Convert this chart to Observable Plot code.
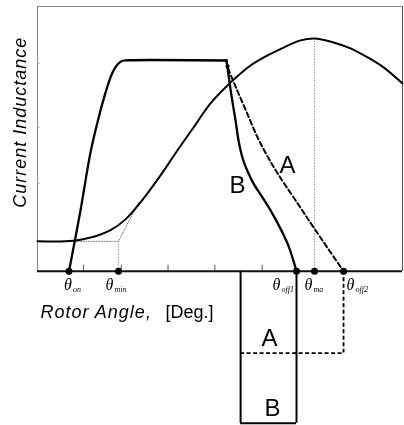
<!DOCTYPE html>
<html>
<head>
<meta charset="utf-8">
<script src="https://cdn.jsdelivr.net/npm/d3@7"></script>
<script src="https://cdn.jsdelivr.net/npm/@observablehq/plot@0.6"></script>
<style>
  html, body { margin: 0; padding: 0; background: #fff; }
  #chart svg { filter: grayscale(100%); }
</style>
</head>
<body>
<div id="chart"></div>
<script>
// Rotor angle (deg) and normalised level (% of full scale)

// Phase current: rise from θ_on to the flat top
const riseAngle   = [6.73, 9.19, 11.33, 13.04, 14.75, 16.03, 17.10, 18.17, 19.45, 40.39];
const riseCurrent = [0, 23.0, 44.9, 57.8, 68.7, 75.1, 78.1, 79.5, 79.7, 79.6];

// Tail B: turned off at θ_off1
const tailBAngle   = [40.39, 40.88, 41.61, 42.32, 42.96, 43.85, 45.00, 46.23, 48.03, 49.80, 51.93, 53.71, 55.35];
const tailBCurrent = [79.6, 73.3, 64.6, 57.0, 49.4, 42.6, 37.3, 32.9, 28.0, 23.0, 16.1, 9.2, 0];

// Tail A: turned off at θ_off2
const tailAAngle   = [40.39, 40.61, 42.32, 44.45, 47.02, 49.15, 51.29, 55.14, 58.99, 65.40];
const tailACurrent = [79.6, 77.4, 69.8, 61.1, 50.6, 43.4, 37.0, 26.8, 16.6, 0];

// Phase inductance profile
const indAngle = [0, 5.98, 9.19, 12.40, 15.60, 18.81, 22.01, 26.29, 29.92, 33.34, 36.97, 40.61,
                  43.39, 45.52, 49.16, 52.58, 56.21, 59.20, 63.26, 66.90, 70.53, 73.95, 78.01];
const indValue = [11.3, 11.3, 11.9, 13.2, 15.5, 19.6, 26.0, 36.2, 45.7, 54.3, 63.4, 70.2,
                  74.7, 77.7, 81.5, 84.5, 87.2, 87.9, 86.4, 84.2, 80.8, 77.0, 70.9];

// Characteristic angles
const thetaNames  = ["on", "min", "off1", "ma", "off2"];
const thetaAngles = [6.73, 17.31, 55.35, 59.20, 65.40];

// Minimum inductance level and the tangent construction that defines θ_min
const minInductance = 11.3;
const tangentEnd = {angle: 21.59, value: 26.0};
const peakInductance = 87.9;

// Conduction-interval diagram below the axis
const dwellStart = 43.4;
const levelA = -30.9;
const levelB = -57.4;

const xTicks = [9.8, 17.9, 27.9, 37.9, 48.0];
const yTicks = [33.2, 54.3, 78.5];

const pts = (xs, ys) => xs.map((x, i) => ({x, y: ys[i]}));
const rise  = pts(riseAngle, riseCurrent);
const tailB = pts(tailBAngle, tailBCurrent);
const tailA = pts(tailAAngle, tailACurrent);
const ind   = pts(indAngle, indValue);

const thetaMin = thetaAngles[1], thetaOff1 = thetaAngles[2],
      thetaMa = thetaAngles[3], thetaOff2 = thetaAngles[4];

const dotted = {stroke: "#777", strokeWidth: 1, strokeDasharray: "1,1.6"};
const serif = "'Liberation Serif', 'Times New Roman', serif";

// horizontal offsets (px) of each θ glyph and its subscript from the marker dot
const thetaOffsets = {on: [-1, 4], min: [-9, -4], off1: [-20, -15], ma: [-6, -1], off2: [7, 12]};
const thetaLabelMarks = thetaNames.flatMap((name, i) => {
  const [dxTheta, dxSub] = thetaOffsets[name];
  return [
    Plot.text([thetaAngles[i]], {x: d => d, y: 0, text: () => "θ", dx: dxTheta, dy: 14,
      fontFamily: serif, fontStyle: "italic", fontSize: 16}),
    Plot.text([thetaAngles[i]], {x: d => d, y: 0, text: () => name, dx: dxSub, dy: 18,
      textAnchor: "start", fontFamily: serif, fontStyle: "italic", fontSize: 8})
  ];
});

const chart = Plot.plot({
  width: 404,
  height: 425,
  marginLeft: 37,
  marginRight: 2,
  marginTop: 6,
  marginBottom: 2,
  x: {domain: [0, 78], axis: null},
  y: {domain: [-57.5, 100], axis: null},
  style: {background: "#fff", fontFamily: "'Liberation Sans', Arial, sans-serif", color: "#000"},
  marks: [
    // frame
    Plot.ruleY([100], {x1: 0, x2: 78, stroke: "#888", strokeWidth: 1}),
    Plot.ruleX([0], {y1: 0, y2: 100, stroke: "#888", strokeWidth: 1}),
    Plot.ruleX([78], {y1: 0, y2: 100, stroke: "#555", strokeWidth: 1}),
    Plot.ruleY(yTicks, {x1: 0, x2: 0.5, stroke: "#999", strokeWidth: 1}),
    Plot.ruleX(xTicks, {y1: 0, y2: 2.3, stroke: "#555", strokeWidth: 1}),

    // tangent construction and peak marker
    Plot.line([{x: 7.0, y: minInductance}, {x: thetaMin, y: minInductance},
               {x: tangentEnd.angle, y: tangentEnd.value}], {x: "x", y: "y", ...dotted}),
    Plot.ruleX([thetaMin], {y1: 0, y2: minInductance, ...dotted}),
    Plot.ruleX([thetaMa], {y1: 0, y2: peakInductance, ...dotted}),

    // inductance
    Plot.line(ind, {x: "x", y: "y", curve: "catmull-rom", stroke: "#000", strokeWidth: 2}),

    // current waveforms
    Plot.line(rise, {x: "x", y: "y", curve: "catmull-rom", stroke: "#000", strokeWidth: 2.3}),
    Plot.line(tailB, {x: "x", y: "y", curve: "catmull-rom", stroke: "#000", strokeWidth: 2.3}),
    Plot.line(tailA, {x: "x", y: "y", curve: "catmull-rom", stroke: "#000", strokeWidth: 2, strokeDasharray: "5,3"}),
    Plot.dot([tailA[1]], {x: "x", y: "y", r: 2, fill: "#000"}),

    // angle axis
    Plot.ruleY([0], {x1: 0, x2: 78, stroke: "#111", strokeWidth: 2}),

    // conduction intervals
    Plot.ruleX([dwellStart, thetaOff1], {y1: 0, y2: levelB, stroke: "#000", strokeWidth: 2}),
    Plot.ruleY([levelB], {x1: dwellStart, x2: thetaOff1, stroke: "#000", strokeWidth: 2}),
    Plot.ruleY([levelA], {x1: dwellStart, x2: thetaOff2, stroke: "#000", strokeWidth: 1.8, strokeDasharray: "4,2.5"}),
    Plot.ruleX([thetaOff2], {y1: 0, y2: levelA, stroke: "#000", strokeWidth: 1.8, strokeDasharray: "4,2.5"}),

    Plot.dot(thetaAngles, {x: d => d, y: 0, r: 3.5, fill: "#000"}),

    // θ labels
    ...thetaLabelMarks,

    // curve labels
    Plot.text([{x: 53.43, y: 40.0, t: "A"}, {x: 42.74, y: 32.5, t: "B"},
               {x: 49.58, y: -25.3, t: "A"}, {x: 50.22, y: -51.7, t: "B"}],
      {x: "x", y: "y", text: "t", fontSize: 24, lineAnchor: "middle"}),

    // axis titles
    Plot.text(["Current Inductance"], {x: -3.63, y: 56.3, text: d => d, rotate: -90,
      fontSize: 18, fontStyle: "italic", lineAnchor: "middle"}),
    Plot.text(["Rotor Angle,"], {x: 0.64, y: -15.5, text: d => d, textAnchor: "start",
      fontSize: 18, fontStyle: "italic", lineAnchor: "middle"}),
    Plot.text(["[Deg.]"], {x: 27.36, y: -15.5, text: d => d, textAnchor: "start",
      fontSize: 18, lineAnchor: "middle"})
  ]
});

document.getElementById("chart").appendChild(chart);

// slightly wider tracking on the axis titles
d3.select(chart).selectAll("text").each(function () {
  const t = this.textContent;
  if (t === "Current Inductance" || t === "Rotor Angle,") this.style.letterSpacing = "1px";
});
</script>
</body>
</html>
